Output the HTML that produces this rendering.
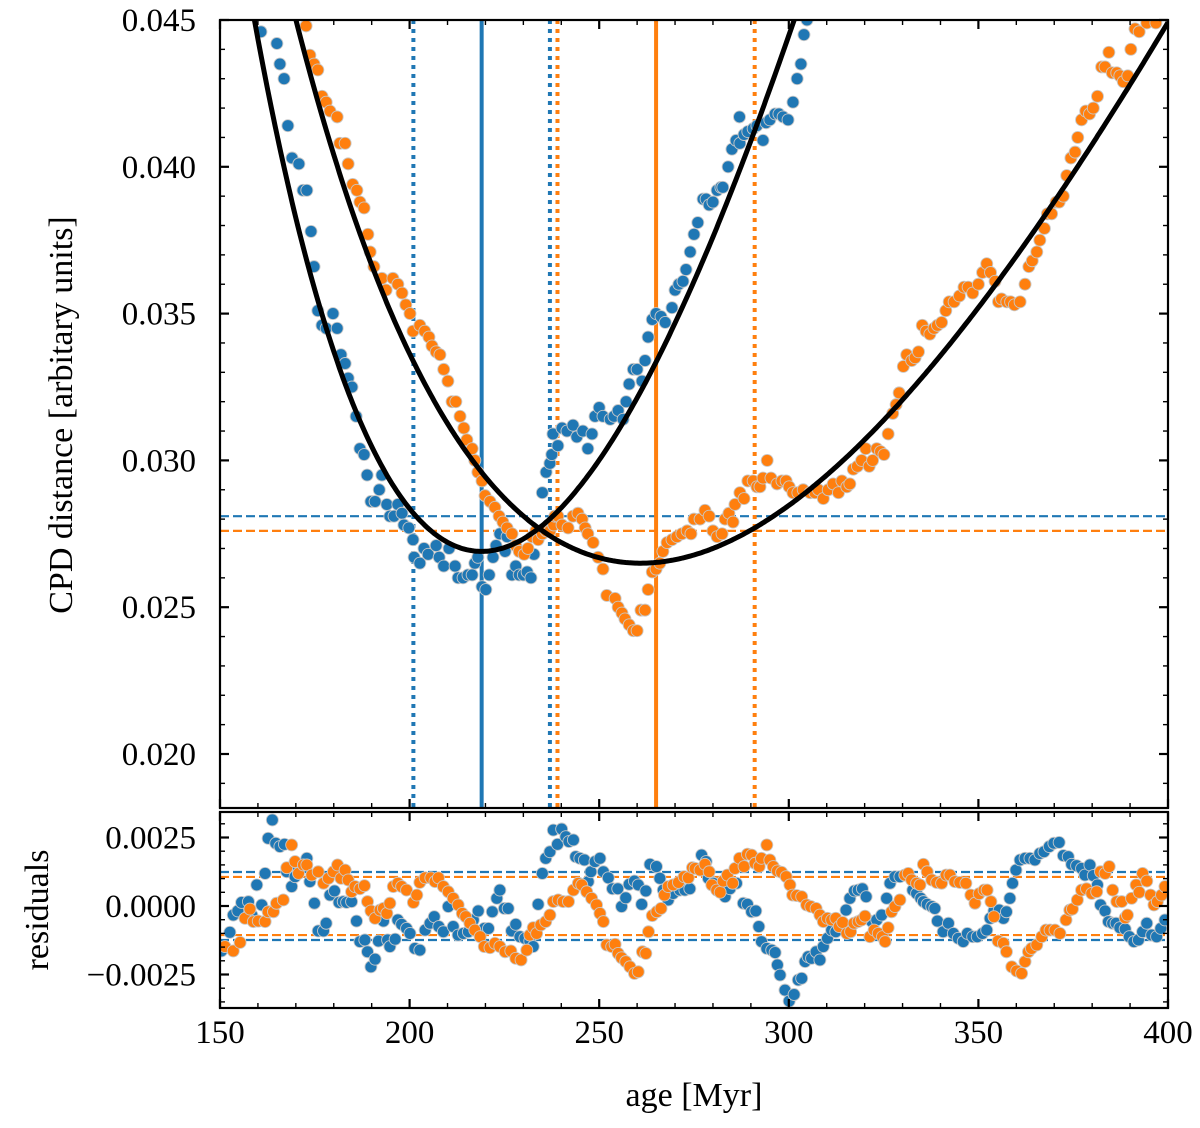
<!DOCTYPE html>
<html><head><meta charset="utf-8"><style>
body{margin:0;background:#fff}
svg{display:block}
text{font-family:"Liberation Serif",serif;fill:#000}
</style></head><body>
<svg id="chart" xmlns="http://www.w3.org/2000/svg" width="1200" height="1128" viewBox="0 0 1200 1128">
<defs>
<clipPath id="clipMain"><rect x="220" y="20" width="948" height="788"/></clipPath>
<clipPath id="clipRes"><rect x="220" y="812" width="948" height="196"/></clipPath>
</defs>
<g id="mainGrid"></g>
<g id="resGrid"></g>
<text x="0" y="0" font-size="34" text-anchor="middle" transform="translate(72,415) rotate(-90)">CPD distance [arbitary units]</text>
<text x="0" y="0" font-size="34" text-anchor="middle" transform="translate(48,910) rotate(-90)">residuals</text>
<text x="694" y="1106" font-size="34" text-anchor="middle">age [Myr]</text>
</svg>
<script>
// ---- data ----
const xTicks = [150, 200, 250, 300, 350, 400];
const yTicksMain = [0.020, 0.025, 0.030, 0.035, 0.040, 0.045];
const yTickLabelsMain = ["0.020", "0.025", "0.030", "0.035", "0.040", "0.045"];
const yTicksRes = [-0.0025, 0.0, 0.0025];
const yTickLabelsRes = ["\u22120.0025", "0.0000", "0.0025"];
// fit parameters: cpd = a*(log10(age)-v)^2 + c
const fitBlue = [0.94, 2.3404, 0.0269];
const fitOrange = [0.535, 2.4165, 0.0265];
// best ages and bounds
const blueBest = [219, 201, 237];
const orangeBest = [265, 239, 291];
const thresholds = [0.0281, 0.0276];
const resBands = [0.00124, 0.00106];
// main panel data (cpd in units of 1e-3)
const blueAge = [160.8,165.0,165.8,166.9,167.9,169.0,170.8,171.9,172.9,174.0,174.8,175.8,176.9,178.0,179.8,180.9,181.9,183.0,183.8,184.8,185.9,186.9,188.0,188.8,189.8,190.9,192.0,192.7,194.0,194.8,195.9,196.9,198.0,198.5,199.8,200.9,201.2,202.7,203.8,204.9,207.0,207.8,209.0,210.4,212.0,212.8,214.1,215.4,216.5,217.2,218.0,219.1,220.1,221.0,222.0,222.8,223.8,225.2,225.7,227.0,228.0,228.9,230.0,231.0,232.0,232.8,235.0,236.0,237.0,237.5,237.8,239.1,240.2,241.5,243.1,244.1,245.7,247.0,248.1,248.9,250.0,251.0,252.9,253.9,255.0,256.3,257.1,257.9,259.0,260.0,261.3,262.1,262.9,264.0,265.0,266.3,267.4,269.2,270.0,271.0,272.1,272.9,274.0,275.0,276.0,277.4,278.2,279.0,280.0,281.1,282.1,282.6,284.0,285.0,286.1,287.0,287.1,288.2,289.2,290.6,291.6,293.2,294.0,295.0,296.4,297.4,298.5,299.8,301.1,302.2,303.2,304.0,304.8];
const blueCpd = [44.6,44.2,43.5,43.0,41.4,40.3,40.1,39.2,39.2,37.8,36.6,35.1,34.6,34.5,35.0,34.5,33.6,33.3,32.8,32.5,31.5,30.4,30.2,29.5,28.6,28.6,29.0,29.5,28.5,28.1,28.1,28.5,28.2,27.8,27.7,27.3,26.7,26.5,27.0,26.8,27.1,26.7,26.4,27.0,26.4,26.0,26.0,26.1,26.1,26.5,26.7,25.7,25.6,26.1,26.7,27.1,27.5,26.9,27.4,26.1,26.4,26.1,26.1,26.2,26.0,26.8,28.9,29.6,29.9,30.2,30.9,30.5,31.1,31.0,31.2,30.8,31.0,30.4,30.9,31.5,31.8,31.5,31.4,31.5,31.7,31.4,32.0,32.6,33.1,33.1,32.7,33.4,34.2,34.8,35.0,34.9,34.7,35.2,35.8,36.0,36.1,36.5,37.1,37.7,38.1,38.9,38.9,38.7,38.8,39.2,39.3,39.3,40.0,40.6,40.9,41.7,40.8,41.1,41.2,41.3,41.4,40.9,41.5,41.6,41.8,41.8,41.7,41.6,42.2,43.0,43.5,44.5,45.0];
const orangeAge = [172.7,173.7,174.8,175.8,176.9,178.0,179.0,180.9,181.6,183.0,183.8,185.0,186.1,186.9,188.0,189.0,189.6,190.6,192.7,193.8,195.6,196.9,198.0,199.0,200.1,200.9,202.7,204.0,205.1,205.9,207.0,208.0,209.0,210.1,211.2,212.2,213.3,214.3,215.1,216.5,217.2,218.0,219.1,219.9,221.2,222.5,223.6,224.6,225.7,227.0,228.0,228.9,230.2,231.2,232.3,233.3,233.9,235.0,236.0,237.0,238.0,238.3,239.1,240.2,241.8,243.1,244.4,245.5,246.3,247.0,248.4,249.7,251.0,252.0,254.2,255.0,256.0,256.8,257.9,259.0,260.0,261.0,262.1,262.9,264.0,265.0,266.0,266.8,267.9,269.2,270.5,271.8,273.2,274.2,275.0,276.6,277.9,279.0,280.0,281.1,282.4,283.2,284.2,285.3,285.8,287.1,288.2,289.2,290.6,291.6,292.4,293.2,294.3,295.3,296.9,298.2,299.3,300.1,301.1,302.4,303.8,305.6,306.9,307.8,309.1,310.4,311.7,313.1,314.0,315.3,316.1,317.0,318.1,319.2,320.3,321.2,322.1,323.2,324.2,325.1,326.2,327.4,328.3,329.1,330.2,331.1,332.4,333.3,334.2,335.2,336.2,337.2,338.3,339.2,340.3,341.4,342.3,343.6,345.0,346.2,347.3,348.5,350.0,351.1,352.2,353.2,354.4,355.3,356.1,357.5,358.5,359.5,361.0,362.3,363.3,364.2,365.4,366.2,367.4,368.2,369.3,370.5,371.3,372.4,373.3,374.4,375.5,376.2,377.2,378.3,379.3,380.3,381.4,382.5,383.4,384.4,385.3,386.5,387.3,388.2,389.4,390.2,391.3,392.4,394.4,396.8];
const orangeCpd = [44.8,43.8,43.5,43.3,42.4,42.2,41.9,41.7,40.8,40.8,40.1,39.4,39.2,38.8,38.6,37.7,37.1,36.6,36.2,35.8,36.2,36.0,35.7,35.3,35.0,34.4,34.6,34.4,34.2,33.9,33.7,33.6,33.1,32.7,32.0,32.0,31.5,31.1,30.7,30.4,30.0,29.6,29.3,28.8,28.6,28.4,28.1,27.9,27.7,27.5,27.1,26.9,26.8,27.0,27.4,27.6,27.3,27.5,27.6,27.6,27.8,28.1,28.1,27.8,27.7,28.1,28.2,28.0,27.7,27.5,27.2,26.7,26.3,25.4,25.3,25.0,24.8,24.6,24.4,24.2,24.2,24.9,24.9,25.6,26.2,26.3,26.5,26.9,27.2,27.3,27.4,27.5,27.6,27.5,28.0,28.0,28.3,28.1,27.6,27.4,27.5,28.0,28.2,27.9,28.5,28.9,28.7,29.3,29.3,29.1,29.1,29.4,30.0,29.4,29.2,29.3,29.3,29.1,28.9,28.9,29.0,28.9,28.9,29.0,28.7,29.0,29.2,28.9,29.3,29.1,29.2,29.7,29.8,30.0,30.4,29.8,30.0,30.4,30.3,30.2,30.9,31.6,31.9,32.3,33.2,33.6,33.4,33.5,33.7,34.6,34.4,34.3,34.5,34.6,34.7,35.1,35.4,35.4,35.6,35.9,35.9,35.7,36.0,36.4,36.7,36.4,36.1,35.4,35.5,35.4,35.4,35.3,35.4,36.0,36.6,36.8,37.1,37.5,37.9,38.4,38.4,38.8,38.8,39.0,39.7,40.3,40.5,41.0,41.6,41.9,41.8,42.0,42.4,43.4,43.4,43.9,43.2,43.2,43.1,42.9,43.1,44.0,44.7,44.6,44.9,44.9];
// residual panel data (units of 1e-3)
const blueResAge = [150.4,152.6,153.5,154.7,155.7,157.5,158.4,159.7,161.0,161.9,162.7,163.8,164.7,165.8,167.0,167.6,168.9,169.8,170.7,172.9,173.7,174.9,175.9,177.3,178.0,179.0,180.2,181.4,182.5,183.4,184.7,186.0,186.9,188.2,188.9,189.8,190.9,191.8,193.1,194.2,194.8,196.2,196.9,197.9,199.2,200.1,201.4,202.7,204.1,205.4,206.5,207.7,208.9,210.2,211.5,212.8,214.2,215.5,216.8,218.1,219.7,220.8,221.8,223.0,223.8,225.0,226.0,226.9,228.0,229.1,230.4,231.7,232.6,233.9,235.0,235.9,237.0,237.9,239.0,240.1,241.2,242.0,243.2,243.8,244.9,246.1,247.1,247.8,248.9,250.2,251.1,252.4,253.5,254.9,255.9,257.0,257.9,259.3,260.3,261.2,262.3,263.4,265.1,266.0,266.9,268.2,269.5,271.3,272.6,273.9,277.0,278.2,278.8,280.1,281.7,283.2,284.5,286.2,288.0,289.1,290.2,291.3,292.1,292.8,294.2,295.5,296.4,297.0,297.7,299.0,300.1,301.4,302.5,303.4,304.3,305.1,306.0,307.2,308.2,309.1,310.2,311.3,312.4,313.9,315.1,316.1,317.3,318.3,319.4,320.4,321.9,323.2,324.5,325.8,326.7,328.0,329.3,331.1,332.7,333.7,334.8,335.5,336.5,337.7,338.5,339.2,340.7,342.1,343.4,344.7,346.0,347.1,348.5,349.7,351.1,352.2,353.1,354.1,355.5,356.6,357.4,358.3,359.0,359.9,361.0,362.3,363.6,364.9,366.2,367.3,368.7,369.9,371.3,372.4,373.7,374.6,375.9,377.2,378.1,379.4,380.3,381.4,382.2,383.4,384.3,385.4,386.3,387.3,388.7,389.8,391.0,392.2,393.3,394.4,395.7,397.0,398.1,399.2];
const blueRes = [-1.64,-0.96,-0.33,-0.18,0.13,0.16,-0.33,0.77,0.04,1.19,2.47,3.14,2.29,2.17,2.25,1.25,0.71,1.07,1.37,1.74,0.89,0.10,-0.91,-0.91,-0.63,0.40,0.55,0.13,0.16,0.13,0.16,-0.55,-1.30,-1.24,-1.67,-2.22,-1.94,-1.28,-0.55,-1.24,-1.48,-1.21,-0.51,-0.67,-0.82,-1.00,-1.55,-1.61,-0.88,-0.63,-0.39,-0.75,-0.94,-0.02,-0.75,-1.06,-1.00,-0.94,-0.51,-0.18,-0.82,-0.82,-0.21,0.28,0.58,-0.09,-0.09,-0.91,-0.67,-1.12,-1.18,-1.28,-1.48,0.06,1.19,1.74,1.98,2.77,2.25,2.81,2.53,2.35,2.41,1.80,1.74,1.68,0.89,1.25,1.62,1.74,1.25,1.03,0.63,0.63,-0.02,0.30,0.79,0.91,0.77,0.06,0.55,1.52,1.44,1.01,0.58,0.22,0.46,0.58,0.58,0.63,1.86,1.62,1.01,0.83,0.71,0.34,0.63,0.83,0.10,0.06,-0.21,-0.18,-0.75,-1.30,-1.55,-1.61,-1.70,-2.15,-2.52,-3.07,-3.47,-3.23,-2.70,-2.64,-2.03,-1.85,-1.91,-1.67,-1.97,-1.48,-1.18,-0.88,-0.94,-0.69,-0.15,0.28,0.55,0.58,0.63,0.34,-0.57,-0.51,-0.33,0.28,0.83,1.07,1.07,1.13,0.58,0.46,0.28,0.16,0.06,-0.02,-0.09,-0.55,-0.94,-0.63,-1.00,-1.18,-1.30,-1.00,-1.12,-1.12,-1.00,-0.88,-0.45,-0.18,-0.15,-0.45,-0.21,0.28,0.83,1.31,1.68,1.74,1.74,1.68,1.92,1.98,2.17,2.29,2.32,1.84,1.80,1.52,1.47,1.37,1.13,1.50,1.11,0.77,0.04,-0.18,-0.57,-0.63,-0.63,-0.79,-0.84,-1.12,-1.30,-1.24,-0.94,-0.63,-1.06,-1.12,-0.82,-0.51];
const orangeResAge = [151.3,153.5,155.3,156.6,157.9,158.8,160.1,161.9,162.7,164.1,164.9,166.7,167.6,168.9,169.8,170.7,172.0,172.9,174.2,175.9,177.3,178.6,179.9,181.0,181.9,183.0,183.8,184.7,185.6,186.9,188.1,188.9,189.8,190.9,192.2,193.1,194.0,194.8,195.7,196.9,197.9,199.2,201.0,201.9,202.7,204.1,205.6,206.7,207.6,208.9,210.2,211.5,212.8,213.9,214.8,215.9,217.2,218.6,219.7,221.2,222.5,223.8,225.2,226.7,228.0,229.4,230.9,231.7,232.6,233.5,234.6,235.9,237.0,237.9,239.2,240.5,241.9,243.2,244.5,245.4,246.7,248.0,249.3,250.2,251.1,252.0,253.3,254.2,255.0,255.9,257.0,258.1,259.3,260.3,261.4,262.3,263.0,264.0,265.2,266.3,267.2,268.2,269.5,270.9,272.4,273.5,274.6,275.3,276.6,277.9,279.0,279.7,281.0,281.9,282.7,283.8,285.2,285.8,287.0,288.2,289.1,290.2,291.1,292.2,292.8,294.2,295.0,295.9,297.0,298.1,299.3,300.3,301.0,302.1,303.4,304.7,305.8,307.2,308.2,309.1,310.2,311.3,312.4,313.3,314.2,315.3,316.3,317.2,318.3,319.2,320.1,321.4,322.5,323.6,324.7,325.4,326.2,327.1,328.0,329.3,330.6,331.5,332.4,333.7,334.6,335.5,336.5,337.7,339.0,340.3,341.5,342.5,343.8,345.1,346.7,348.0,349.1,350.2,351.5,352.3,353.3,354.1,355.2,356.6,357.4,358.8,360.1,361.4,362.3,363.2,364.0,365.4,366.7,367.8,368.9,370.2,371.5,373.1,374.1,374.8,376.1,377.2,378.5,379.9,381.2,382.2,383.4,384.5,385.4,386.5,387.8,388.7,389.3,390.4,391.6,392.4,393.3,394.4,395.4,396.3,397.2,398.3,399.2];
const orangeRes = [-1.48,-1.64,-1.33,-0.45,-0.11,-0.57,-0.55,-0.57,-0.21,-0.21,0.10,0.22,1.40,2.23,1.62,1.19,1.50,1.50,1.13,1.25,0.83,1.01,1.25,1.50,1.01,1.31,0.95,0.52,0.71,0.63,0.74,0.16,-0.18,-0.45,-0.15,-0.09,-0.27,0.10,0.71,0.83,0.71,0.58,0.13,0.40,0.86,1.03,1.03,0.89,1.03,0.71,0.52,0.28,0.04,-0.27,-0.39,-0.63,-0.88,-1.12,-1.48,-1.52,-1.36,-1.48,-1.67,-1.64,-1.91,-1.97,-1.61,-1.06,-0.79,-1.00,-0.69,-0.57,-0.33,0.16,0.22,0.16,0.16,0.58,0.83,0.77,0.52,0.28,0.04,-0.27,-0.57,-1.42,-1.48,-1.40,-1.73,-1.89,-2.03,-2.22,-2.46,-2.40,-1.67,-1.73,-0.94,-0.35,-0.21,-0.09,0.40,0.71,0.77,0.86,1.07,1.03,1.40,1.37,1.31,1.52,1.25,0.77,0.58,0.50,0.91,1.13,0.83,1.37,1.74,1.44,1.89,1.86,1.56,1.44,1.74,2.23,1.68,1.44,1.28,1.23,1.07,0.77,0.40,0.38,0.34,0.04,-0.02,-0.09,-0.33,-0.57,-0.45,-0.51,-0.45,-0.75,-0.60,-1.00,-0.94,-0.63,-0.57,-0.51,-0.37,-1.12,-0.88,-1.00,-1.12,-1.30,-0.79,-0.21,-0.02,0.22,1.13,1.19,0.95,0.83,0.77,1.52,1.25,0.95,0.86,0.83,1.13,1.13,0.89,0.86,0.83,0.40,0.10,0.45,0.58,0.58,0.16,-0.39,-1.28,-1.36,-1.67,-2.22,-2.37,-2.46,-2.03,-1.67,-1.55,-1.42,-1.12,-0.88,-0.88,-0.88,-1.00,-0.51,-0.15,-0.11,0.22,0.58,0.63,0.46,0.52,1.25,1.19,1.44,0.58,0.16,0.16,-0.43,-0.33,0.28,0.77,0.50,1.19,0.91,0.40,0.04,0.16,0.40,0.71];

// ---- axes ----
const X0 = 220, X1 = 1168, AMIN = 150, AMAX = 400;
const MT = 20, MB = 808, MYMAX = 0.045, MYMIN = 0.045 - 788 * 0.005 / 146.8;
const RT = 812, RB = 1008, R0Y = 906, RPX = 68.5 / 0.0025;
const BLUE = "#1f77b4", ORANGE = "#ff7f0e";
function sx(a) { return X0 + (a - AMIN) / (AMAX - AMIN) * (X1 - X0); }
function syMain(v) { return MT + (MYMAX - v) / (MYMAX - MYMIN) * (MB - MT); }
function syRes(v) { return R0Y - v * RPX; }
function fitVal(p, age) { const d = Math.log10(age) - p[1]; return p[0] * d * d + p[2]; }

const NS = "http://www.w3.org/2000/svg";
const svg = document.getElementById("chart");
const gMain = document.getElementById("mainGrid");
const gRes = document.getElementById("resGrid");
function mk(tag, attrs, parent) {
  const e = document.createElementNS(NS, tag);
  for (const k in attrs) e.setAttribute(k, attrs[k]);
  parent.appendChild(e);
  return e;
}

const mainClip = mk("g", { "clip-path": "url(#clipMain)" }, gMain);


const resClip = mk("g", { "clip-path": "url(#clipRes)" }, gRes);



[[thresholds[0], BLUE], [thresholds[1], ORANGE]].forEach(([v, c], i) => {
  const l = mk("line", { x1: X0, x2: X1, y1: syMain(v), y2: syMain(v), stroke: c, "stroke-width": 2.2, "stroke-dasharray": "9,4" }, mainClip);
  
  
});
function vline(age, c, dotted, name) {
  const l = mk("line", { x1: sx(age), x2: sx(age), y1: MT, y2: MB, stroke: c, "stroke-width": 4, "stroke-dasharray": dotted ? "4,5" : "none" }, mainClip);
  
  
}
vline(blueBest[1], BLUE, true, 'blue-lower-bound');
vline(blueBest[2], BLUE, true, 'blue-upper-bound');
vline(orangeBest[1], ORANGE, true, 'orange-lower-bound');
vline(orangeBest[2], ORANGE, true, 'orange-upper-bound');
vline(blueBest[0], BLUE, false, 'blue-best-age');
vline(orangeBest[0], ORANGE, false, 'orange-best-age');

function dots(ages, vals, scale, sy, parent, color, name) {
  const g = mk("g", {}, parent);
  
  
  for (let i = 0; i < ages.length; i++) {
    const c = mk("circle", { cx: sx(ages[i]), cy: sy(vals[i] * scale), r: 6, fill: color, stroke: "#c8c8c8", "stroke-width": 0.9 }, g);
    
    
  }
}
dots(blueAge, blueCpd, 1e-3, syMain, mainClip, BLUE, 'blue-cpd-points');
dots(orangeAge, orangeCpd, 1e-3, syMain, mainClip, ORANGE, 'orange-cpd-points');

function fitPath(p, name) {
  let d = "";
  for (let a = AMIN; a <= AMAX; a += 0.5) {
    d += (d ? "L" : "M") + sx(a).toFixed(1) + "," + syMain(fitVal(p, a)).toFixed(1);
  }
  const path = mk("path", { d: d, fill: "none", stroke: "#000", "stroke-width": 5 }, mainClip);
  
  
}
fitPath(fitBlue, 'blue-fit-curve');
fitPath(fitOrange, 'orange-fit-curve');

[[resBands[0], BLUE, 'blue'], [resBands[1], ORANGE, 'orange']].forEach(([v, c, n]) => {
  [v, -v].forEach((vv, j) => {
    const l = mk("line", { x1: X0, x2: X1, y1: syRes(vv), y2: syRes(vv), stroke: c, "stroke-width": 2.2, "stroke-dasharray": "9,4" }, resClip);
    
    
  });
});
dots(blueResAge, blueRes, 1e-3, syRes, resClip, BLUE, 'blue-residual-points');
dots(orangeResAge, orangeRes, 1e-3, syRes, resClip, ORANGE, 'orange-residual-points');

[[MT, MB, 'main-frame'], [RT, RB, 'residual-frame']].forEach(([t, b, n]) => {
  const r = mk("rect", { x: X0, y: t, width: X1 - X0, height: b - t, fill: "none", stroke: "#000", "stroke-width": 2.2 }, svg);
  
  
});

const tg = mk("g", { stroke: "#000" }, svg);


function tk(x1, y1, x2, y2, w) { mk("line", { x1, y1, x2, y2, "stroke-width": w }, tg); }
for (let a = AMIN; a <= AMAX; a += 10) {
  const major = (a % 50 === 0);
  const L = major ? 9 : 5, w = major ? 2.2 : 1.4, x = sx(a);
  [[MT, 1], [MB, -1], [RT, 1], [RB, -1]].forEach(([y, s]) => tk(x, y, x, y + s * L, w));
}
for (let k = 18; k <= 45; k++) {
  const v = k / 1000, y = syMain(v);
  if (y < MT - 0.5 || y > MB) continue;
  const major = (k % 5 === 0), L = major ? 9 : 5, w = major ? 2.2 : 1.4;
  tk(X0, y, X0 + L, y, w); tk(X1, y, X1 - L, y, w);
}
for (let k = -7; k <= 6; k++) {
  const v = k * 0.0005, y = syRes(v);
  if (y < RT || y > RB) continue;
  const major = (k % 5 === 0), L = major ? 9 : 5, w = major ? 2.2 : 1.4;
  tk(X0, y, X0 + L, y, w); tk(X1, y, X1 - L, y, w);
}

const lg = mk("g", {}, svg);


function label(txt, x, y, anchor, name) {
  const t = mk("text", { x: x, y: y, "font-size": 33, "text-anchor": anchor }, lg);
  t.textContent = txt;
  
  
}
xTicks.forEach(a => label(String(a), sx(a), 1043, "middle", 'x-tick-label'));
yTicksMain.forEach((v, i) => label(yTickLabelsMain[i], 196, syMain(v) + 11, "end", 'y-tick-label'));
yTicksRes.forEach((v, i) => label(yTickLabelsRes[i], 196, syRes(v) + 11, "end", 'residual-tick-label'));
</script>
</body></html>
